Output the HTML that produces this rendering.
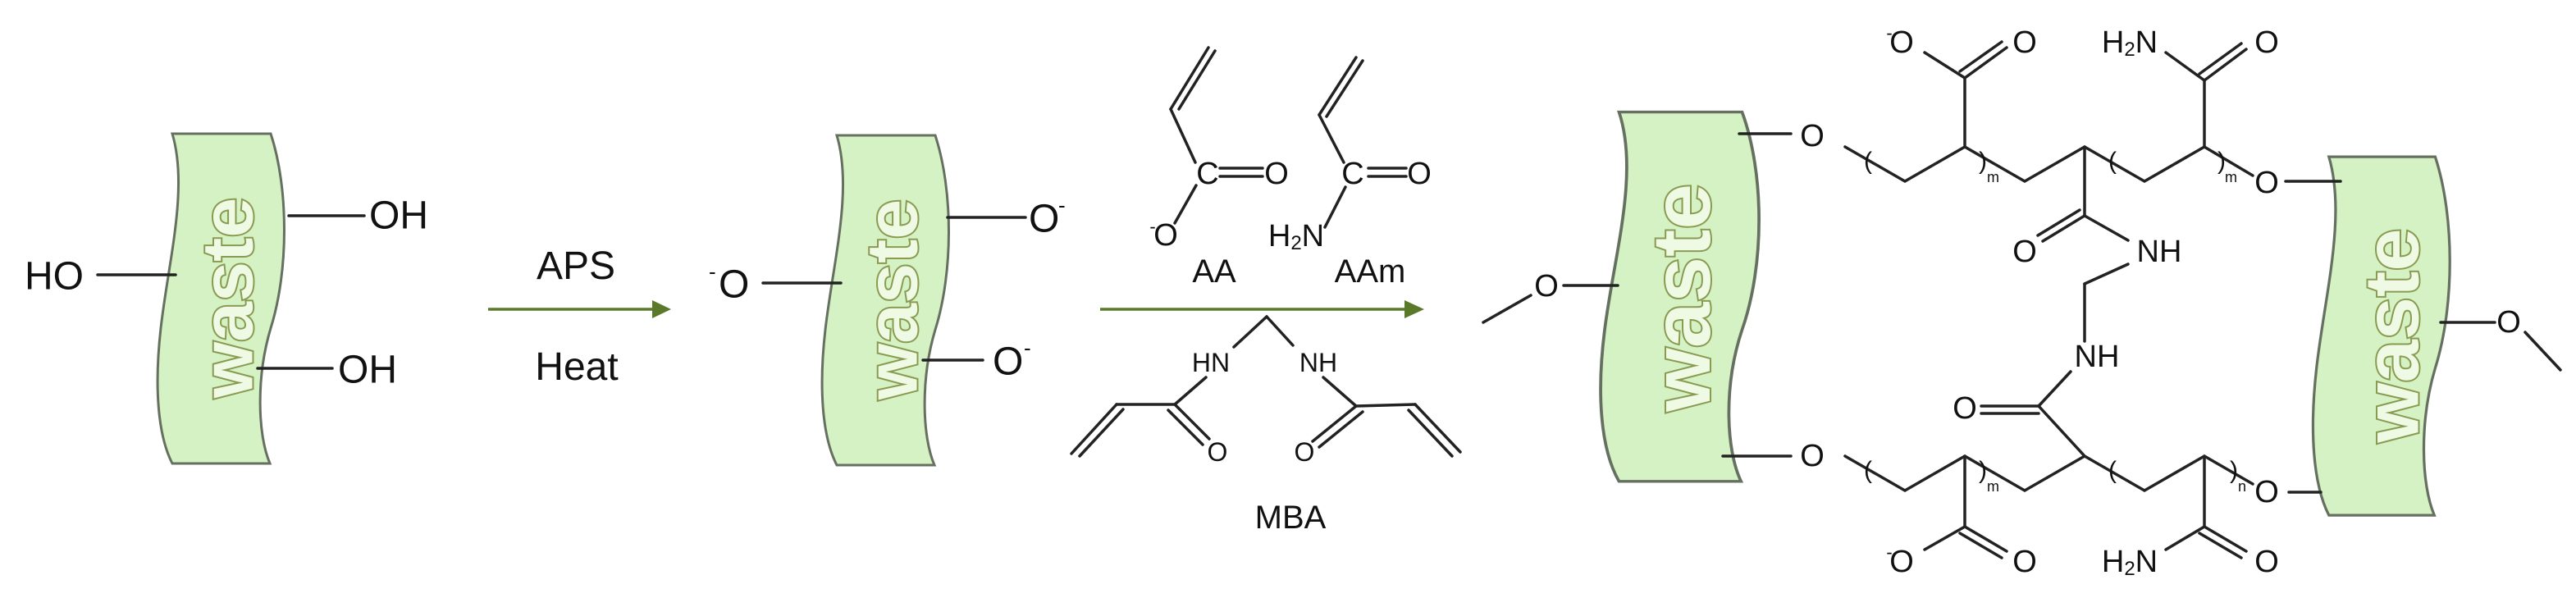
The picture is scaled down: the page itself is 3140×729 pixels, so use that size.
<!DOCTYPE html>
<html><head><meta charset="utf-8"><style>
html,body{margin:0;padding:0;background:#fff;width:3140px;height:729px;overflow:hidden}
svg{display:block}
.t{font-family:"Liberation Sans",Arial,sans-serif;fill:#111}
.n{font-family:"Liberation Sans Narrow","Liberation Sans",Arial,sans-serif;fill:#111}
.w{font-family:"Liberation Sans",Arial,sans-serif;font-weight:bold;fill:#eefae4;stroke:#8a9a50;stroke-width:4;paint-order:stroke}
</style></head><body>
<svg width="3140" height="729" viewBox="0 0 3140 729" xmlns="http://www.w3.org/2000/svg">
<defs>
<path id="band" d="M210,163 L330,163 C352,230 352,330 330,400 C312,460 314,530 329,565 L210,565 C192,530 188,470 196,400 C205,320 230,230 210,163 Z" fill="#d4f2c4" stroke="#667060" stroke-width="3"/>
</defs>

<use href="#band"/>
<use href="#band" transform="translate(810,2)"/>
<use href="#band" transform="translate(1711,-46) scale(1.25,1.12)"/>
<use href="#band" transform="translate(2612,14) scale(1.08,1.087)"/>

<text class="w" font-size="88" text-anchor="middle" dominant-baseline="central" transform="translate(277,363) rotate(-90)">waste</text>
<text class="w" font-size="88" text-anchor="middle" dominant-baseline="central" transform="translate(1087,365) rotate(-90)">waste</text>
<text class="w" font-size="100" text-anchor="middle" dominant-baseline="central" transform="translate(2050,363) rotate(-90)">waste</text>
<text class="w" font-size="94" text-anchor="middle" dominant-baseline="central" transform="translate(2915,409) rotate(-90)">waste</text>

<g stroke="#222" stroke-width="3.5" fill="none" stroke-linecap="round">
<line x1="119" y1="335" x2="214" y2="335"/>
<line x1="352" y1="263" x2="444" y2="263"/>
<line x1="314" y1="449" x2="405" y2="449"/>
<line x1="930" y1="345" x2="1025" y2="345"/>
<line x1="1155" y1="265" x2="1250" y2="265"/>
<line x1="1125" y1="439" x2="1198" y2="439"/>
<line x1="1473" y1="58" x2="1427" y2="133"/>
<line x1="1481" y1="62" x2="1437" y2="133"/>
<line x1="1427" y1="133" x2="1457" y2="198"/>
<line x1="1487" y1="205" x2="1539" y2="205"/>
<line x1="1487" y1="215" x2="1539" y2="215"/>
<line x1="1458" y1="226" x2="1432" y2="272"/>
<line x1="1653" y1="70" x2="1608" y2="140"/>
<line x1="1661" y1="74" x2="1617" y2="142"/>
<line x1="1608" y1="140" x2="1638" y2="198"/>
<line x1="1668" y1="205" x2="1714" y2="205"/>
<line x1="1668" y1="215" x2="1714" y2="215"/>
<line x1="1640" y1="228" x2="1615" y2="277"/>
<line x1="1544" y1="386" x2="1504" y2="423"/>
<line x1="1544" y1="386" x2="1576" y2="421"/>
<line x1="1470" y1="460" x2="1432" y2="493"/>
<line x1="1432" y1="493" x2="1361" y2="493"/>
<line x1="1361" y1="493" x2="1306" y2="553"/>
<line x1="1369" y1="499" x2="1316" y2="556"/>
<line x1="1432" y1="493" x2="1474" y2="535"/>
<line x1="1424" y1="500" x2="1466" y2="542"/>
<line x1="1613" y1="460" x2="1653" y2="495"/>
<line x1="1653" y1="495" x2="1725" y2="493"/>
<line x1="1725" y1="493" x2="1780" y2="551"/>
<line x1="1717" y1="500" x2="1770" y2="556"/>
<line x1="1653" y1="495" x2="1600" y2="538"/>
<line x1="1661" y1="502" x2="1608" y2="545"/>
<line x1="1808" y1="393" x2="1866" y2="360"/>
<line x1="1906" y1="348" x2="1972" y2="348"/>
<line x1="2120" y1="163" x2="2183" y2="163"/>
<polyline points="2249,179 2322,221 2395,179 2468,221 2541,179 2614,221 2687,179 2746,214"/>
<line x1="2786" y1="221" x2="2853" y2="221"/>
<line x1="2395" y1="179" x2="2395" y2="95"/>
<line x1="2395" y1="95" x2="2346" y2="64"/>
<line x1="2395" y1="95" x2="2446" y2="58"/>
<line x1="2389" y1="87" x2="2440" y2="51"/>
<line x1="2687" y1="179" x2="2687" y2="98"/>
<line x1="2687" y1="98" x2="2640" y2="64"/>
<line x1="2687" y1="98" x2="2738" y2="60"/>
<line x1="2681" y1="90" x2="2732" y2="53"/>
<line x1="2541" y1="179" x2="2541" y2="263"/>
<line x1="2541" y1="263" x2="2490" y2="294"/>
<line x1="2535" y1="256" x2="2484" y2="287"/>
<line x1="2541" y1="263" x2="2594" y2="293"/>
<line x1="2594" y1="322" x2="2541" y2="346"/>
<line x1="2541" y1="346" x2="2541" y2="416"/>
<line x1="2524" y1="453" x2="2485" y2="495"/>
<line x1="2485" y1="495" x2="2415" y2="495"/>
<line x1="2485" y1="504" x2="2415" y2="504"/>
<line x1="2485" y1="495" x2="2541" y2="556"/>
<line x1="2100" y1="556" x2="2183" y2="556"/>
<polyline points="2249,556 2322,598 2395,556 2468,598 2541,556 2614,598 2687,556 2746,590"/>
<line x1="2790" y1="600" x2="2829" y2="600"/>
<line x1="2395" y1="556" x2="2395" y2="642"/>
<line x1="2395" y1="642" x2="2346" y2="670"/>
<line x1="2395" y1="642" x2="2446" y2="672"/>
<line x1="2389" y1="650" x2="2440" y2="680"/>
<line x1="2687" y1="556" x2="2687" y2="642"/>
<line x1="2687" y1="642" x2="2640" y2="670"/>
<line x1="2687" y1="642" x2="2738" y2="672"/>
<line x1="2681" y1="650" x2="2732" y2="680"/>
<line x1="2975" y1="393" x2="3041" y2="393"/>
<line x1="3078" y1="405" x2="3121" y2="451"/>
</g>

<g class="n" font-size="30">
<text x="2272" y="206">(</text><text x="2412" y="206">)</text><text x="2422" y="222" font-size="18">m</text>
<text x="2570" y="206">(</text><text x="2703" y="206">)</text><text x="2712" y="222" font-size="18">m</text>
<text x="2272" y="583">(</text><text x="2412" y="583">)</text><text x="2422" y="599" font-size="18">m</text>
<text x="2570" y="583">(</text><text x="2718" y="583">)</text><text x="2728" y="599" font-size="18">n</text>
</g>

<g stroke="#5a7a2a" stroke-width="3.5"><line x1="595" y1="377" x2="800" y2="377"/><line x1="1341" y1="377" x2="1715" y2="377"/></g>
<polygon points="795,366 818,377 795,388" fill="#5a7a2a"/>
<polygon points="1712,366 1736,377 1712,388" fill="#5a7a2a"/>

<g class="t" font-size="48" dominant-baseline="central">
<text x="30" y="337">HO</text>
<text x="450" y="263">OH</text>
<text x="412" y="451">OH</text>
<text x="876" y="347">O</text><text x="864" y="331" font-size="26">-</text>
<text x="1254" y="267">O</text><text x="1290" y="250" font-size="26">-</text>
<text x="1210" y="441">O</text><text x="1248" y="424" font-size="26">-</text>
</g>
<g class="t" font-size="48" text-anchor="middle">
<text x="702" y="340">APS</text>
<text x="703" y="463">Heat</text>
</g>
<g class="t" font-size="40" text-anchor="middle">
<text x="1480" y="344">AA</text>
<text x="1670" y="344">AAm</text>
<text x="1573" y="644">MBA</text>
</g>
<g class="n" font-size="38" dominant-baseline="central" text-anchor="middle">
<text x="1472" y="212">C</text><text x="1556" y="212">O</text>
<text x="1421" y="287">O</text><text x="1405" y="276" font-size="22">-</text>
<text x="1649" y="212">C</text><text x="1730" y="212">O</text>
<text x="1580" y="288">H<tspan font-size="24" dy="8">2</tspan><tspan dy="-8">N</tspan></text>
<text x="1476" y="442" font-size="32">HN</text>
<text x="1607" y="442" font-size="32">NH</text>
<text x="1484" y="551" font-size="32">O</text>
<text x="1590" y="551" font-size="32">O</text>
<text x="1885" y="349">O</text>
<text x="2209" y="166">O</text>
<text x="2763" y="223">O</text>
<text x="2318" y="52">O</text><text x="2303" y="40" font-size="22">-</text>
<text x="2468" y="52">O</text>
<text x="2596" y="52">H<tspan font-size="24" dy="8">2</tspan><tspan dy="-8">N</tspan></text>
<text x="2763" y="52">O</text>
<text x="2468" y="307">O</text>
<text x="2632" y="307">NH</text>
<text x="2556" y="435">NH</text>
<text x="2395" y="498">O</text>
<text x="2209" y="556">O</text>
<text x="2763" y="600">O</text>
<text x="2318" y="685">O</text><text x="2303" y="673" font-size="22">-</text>
<text x="2468" y="685">O</text>
<text x="2596" y="685">H<tspan font-size="24" dy="8">2</tspan><tspan dy="-8">N</tspan></text>
<text x="2763" y="685">O</text>
<text x="3058" y="393">O</text>
</g>
</svg>
</body></html>
